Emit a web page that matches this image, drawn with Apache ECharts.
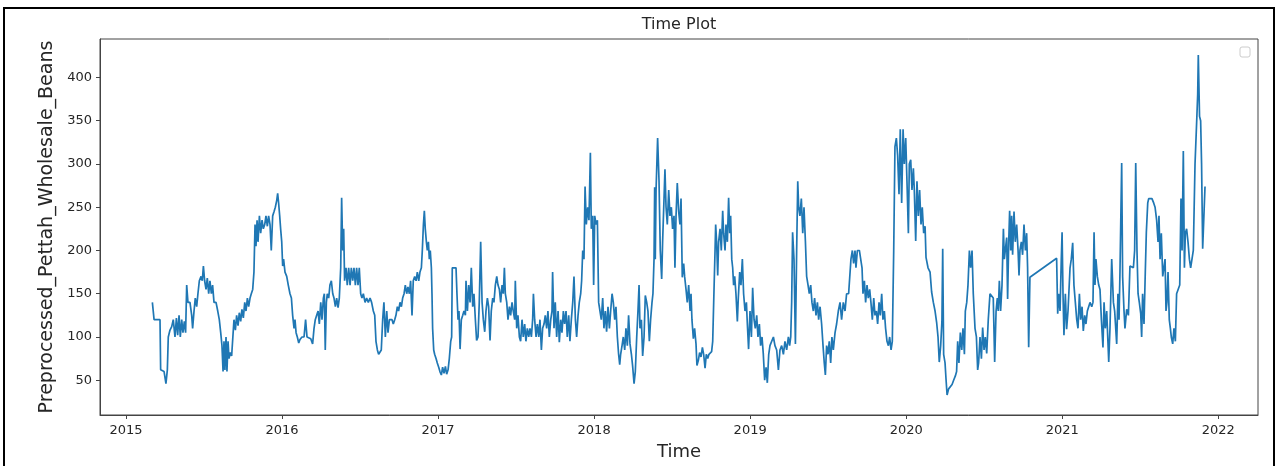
<!DOCTYPE html>
<html><head><meta charset="utf-8">
<script src="https://cdn.jsdelivr.net/npm/echarts@6/dist/echarts.min.js"></script>
<style>html,body{margin:0;padding:0;background:#fff;}#c{width:1275px;height:466px;}</style>
</head><body><div id="c"></div>
<script>
// Observation dates as decimal years
const dates = [
2015.169,2015.177,2015.180,2015.218,2015.222,2015.244,2015.256,2015.265,2015.271,2015.282,
2015.293,2015.303,2015.314,2015.323,2015.331,2015.340,2015.348,2015.357,2015.365,2015.374,
2015.382,2015.389,2015.397,2015.410,2015.421,2015.427,2015.436,2015.444,2015.453,2015.461,
2015.470,2015.481,2015.489,2015.496,2015.504,2015.513,2015.521,2015.530,2015.538,2015.547,
2015.555,2015.564,2015.577,2015.588,2015.598,2015.607,2015.615,2015.622,2015.628,2015.634,
2015.641,2015.647,2015.654,2015.660,2015.669,2015.677,2015.686,2015.692,2015.701,2015.709,
2015.718,2015.726,2015.735,2015.743,2015.752,2015.761,2015.769,2015.778,2015.786,2015.795,
2015.803,2015.812,2015.820,2015.827,2015.833,2015.840,2015.846,2015.855,2015.863,2015.872,
2015.880,2015.889,2015.897,2015.906,2015.914,2015.923,2015.931,2015.940,2015.949,2015.957,
2015.966,2015.972,2015.978,2015.985,2015.991,2015.998,2016.004,2016.010,2016.019,2016.030,
2016.040,2016.051,2016.060,2016.068,2016.077,2016.083,2016.090,2016.098,2016.107,2016.115,
2016.128,2016.141,2016.151,2016.160,2016.171,2016.184,2016.196,2016.205,2016.213,2016.222,
2016.231,2016.239,2016.248,2016.256,2016.265,2016.271,2016.277,2016.284,2016.290,2016.299,
2016.307,2016.316,2016.325,2016.333,2016.342,2016.350,2016.359,2016.367,2016.376,2016.382,
2016.389,2016.395,2016.401,2016.410,2016.418,2016.427,2016.436,2016.444,2016.453,2016.461,
2016.470,2016.478,2016.487,2016.495,2016.504,2016.512,2016.521,2016.532,2016.542,2016.553,
2016.564,2016.574,2016.585,2016.594,2016.602,2016.611,2016.619,2016.628,2016.636,2016.645,
2016.653,2016.662,2016.671,2016.679,2016.688,
2016.696,2016.705,2016.713,2016.722,2016.730,2016.739,2016.747,2016.756,2016.765,2016.773,
2016.782,2016.790,2016.799,2016.807,2016.816,2016.824,2016.833,2016.841,2016.850,2016.859,
2016.867,2016.876,2016.884,2016.893,2016.899,2016.906,2016.912,2016.918,2016.925,2016.931,
2016.938,2016.944,2016.950,2016.957,2016.961,2016.965,2016.972,2016.978,2016.987,2016.995,
2017.004,2017.012,2017.021,2017.029,2017.038,2017.047,2017.055,2017.064,2017.072,2017.081,
2017.087,2017.091,2017.102,2017.115,2017.121,2017.128,2017.134,2017.141,2017.149,2017.158,
2017.166,2017.175,2017.179,2017.188,2017.196,2017.205,2017.213,2017.222,2017.230,2017.239,
2017.247,2017.256,2017.264,2017.273,2017.282,2017.290,2017.299,2017.307,2017.316,2017.324,
2017.333,2017.341,2017.350,2017.358,2017.367,2017.376,2017.384,2017.393,2017.401,2017.410,
2017.418,2017.425,2017.431,2017.440,2017.448,2017.457,2017.465,2017.474,2017.482,2017.491,
2017.495,2017.504,2017.512,2017.521,2017.529,2017.538,2017.546,2017.555,2017.563,2017.572,
2017.581,2017.589,2017.598,2017.606,2017.611,2017.619,2017.628,2017.636,2017.645,2017.653,
2017.662,2017.670,2017.679,2017.687,2017.696,2017.704,2017.713,2017.722,2017.730,2017.734,
2017.743,2017.751,2017.760,2017.769,2017.777,2017.786,2017.794,2017.803,2017.811,2017.820,
2017.828,2017.837,2017.845,2017.854,2017.863,2017.871,2017.880,2017.888,2017.897,2017.905,
2017.914,2017.920,2017.927,2017.935,2017.942,2017.950,2017.959,2017.967,2017.976,2017.982,
2017.991,2017.997,2018.004,2018.012,2018.021,2018.029,2018.038,2018.046,2018.055,2018.063,
2018.072,2018.080,2018.089,2018.098,2018.106,2018.115,2018.123,2018.132,2018.140,2018.149,
2018.157,2018.164,2018.170,2018.179,2018.187,2018.196,2018.204,2018.213,2018.221,2018.230,
2018.239,2018.247,2018.256,2018.264,2018.273,2018.281,2018.288,2018.294,2018.303,2018.311,
2018.320,2018.328,2018.337,2018.345,2018.354,2018.362,2018.371,2018.377,2018.384,2018.388,
2018.392,2018.397,2018.407,2018.416,2018.424,2018.433,2018.439,2018.448,2018.454,2018.461,
2018.469,2018.478,2018.486,2018.495,2018.503,2018.512,2018.518,2018.525,2018.533,2018.542,
2018.550,
2018.557,2018.565,2018.574,2018.580,2018.589,2018.597,2018.606,2018.615,2018.621,2018.627,
2018.636,2018.644,2018.653,2018.659,2018.668,2018.676,2018.685,2018.694,2018.702,2018.711,
2018.719,2018.728,2018.736,2018.745,2018.753,2018.760,2018.768,2018.775,2018.779,2018.785,
2018.792,2018.798,2018.807,2018.815,2018.824,2018.830,2018.839,2018.845,2018.854,2018.862,
2018.869,2018.875,2018.882,2018.888,2018.894,2018.901,2018.909,2018.918,2018.924,2018.933,
2018.941,2018.950,2018.958,2018.967,2018.976,2018.982,2018.990,2018.999,2019.008,2019.016,
2019.025,2019.033,2019.042,2019.050,2019.059,2019.067,2019.076,2019.084,2019.093,2019.102,
2019.110,2019.119,2019.127,2019.138,2019.149,2019.159,2019.170,2019.181,2019.191,2019.202,
2019.213,2019.223,2019.234,2019.245,2019.253,2019.260,2019.266,2019.272,2019.281,2019.290,
2019.298,2019.305,2019.311,2019.319,2019.328,2019.337,2019.345,2019.354,2019.362,2019.371,
2019.379,2019.388,2019.396,2019.405,2019.413,2019.422,2019.431,2019.439,2019.448,2019.458,
2019.467,2019.475,2019.482,2019.490,2019.499,2019.507,2019.516,2019.524,2019.533,2019.544,
2019.554,2019.565,2019.576,2019.586,2019.597,2019.608,2019.618,2019.631,2019.640,2019.646,
2019.655,2019.663,2019.672,2019.678,2019.687,2019.700,2019.710,2019.717,2019.723,2019.732,
2019.740,2019.749,2019.757,2019.766,2019.774,2019.783,2019.792,2019.800,2019.809,2019.817,
2019.826,2019.834,2019.843,2019.851,2019.860,2019.868,2019.877,2019.886,2019.894,2019.903,
2019.911,2019.920,2019.928,2019.937,2019.945,2019.954,2019.962,2019.971,2019.980,2019.988,
2019.997,2020.005,2020.014,2020.020,2020.029,2020.037,2020.046,2020.052,2020.061,2020.069,
2020.078,2020.086,2020.095,2020.103,2020.112,2020.121,2020.127,2020.140,2020.153,2020.163,
2020.174,2020.185,2020.195,2020.204,2020.212,2020.221,2020.229,2020.234,2020.240,2020.249,
2020.255,2020.262,2020.272,2020.283,2020.294,2020.304,2020.315,2020.323,2020.330,2020.338,
2020.347,2020.356,2020.364,2020.373,2020.379,2020.388,2020.396,2020.405,
2020.413,2020.422,2020.430,2020.441,2020.450,2020.458,2020.464,2020.473,2020.482,2020.490,
2020.499,2020.507,2020.516,2020.526,2020.537,2020.548,2020.558,2020.567,2020.576,2020.584,
2020.590,2020.597,2020.605,2020.614,2020.623,2020.629,2020.635,2020.644,2020.650,2020.657,
2020.663,2020.670,2020.676,2020.682,2020.691,2020.699,2020.708,2020.717,2020.723,2020.729,
2020.738,2020.746,2020.755,2020.764,2020.772,2020.778,2020.785,2020.793,2020.964,2020.971,
2020.977,2020.986,2020.994,2020.999,2021.005,2021.011,2021.020,2021.028,2021.037,2021.050,
2021.058,2021.067,2021.075,2021.084,2021.093,2021.101,2021.110,2021.118,2021.127,2021.135,
2021.144,2021.152,2021.161,2021.169,2021.178,2021.189,2021.197,2021.204,2021.210,2021.216,
2021.225,2021.234,2021.242,2021.251,2021.261,2021.268,2021.276,2021.285,2021.298,2021.306,
2021.317,2021.328,2021.336,2021.349,2021.357,2021.364,2021.370,2021.381,2021.387,2021.396,
2021.402,2021.413,2021.424,2021.434,2021.445,2021.456,2021.464,2021.471,2021.479,2021.486,
2021.494,2021.503,2021.509,2021.515,2021.524,2021.533,2021.539,2021.548,2021.554,2021.565,
2021.575,2021.586,2021.595,2021.605,2021.614,2021.620,2021.627,2021.635,2021.644,2021.652,
2021.659,2021.665,2021.671,2021.678,2021.686,2021.693,2021.699,2021.708,2021.716,2021.725,
2021.733,2021.744,2021.753,2021.761,2021.768,2021.776,2021.783,2021.789,2021.797,2021.806,
2021.815,2021.823,2021.832,2021.840,2021.851,2021.862,2021.868,2021.872,2021.880,2021.887,
2021.893,2021.900,2021.915
];
// Preprocessed Pettah wholesale bean prices
const prices = [
140,140,120,120,62,60,46,62,100,108,
112,120,100,122,102,125,100,120,105,118,
105,160,140,140,125,110,130,145,135,150,
165,170,165,182,165,155,168,150,165,150,
160,140,140,130,120,105,90,60,95,62,
100,60,95,75,82,78,80,120,108,125,
113,128,118,132,122,140,130,145,135,145,
150,155,175,230,205,235,210,240,220,235,
225,230,240,228,240,230,200,240,245,250,
258,266,255,240,225,210,182,190,175,170,
160,150,145,125,110,120,105,100,93,97,
100,100,120,100,100,98,92,110,120,125,
130,115,140,120,145,150,85,140,150,145,
160,165,150,145,135,145,134,145,180,261,
200,225,165,180,160,180,160,180,165,180,
160,180,160,180,150,145,150,140,145,140,
145,140,130,125,95,85,80,82,85,120,
140,100,130,105,120,
118,120,115,120,125,135,130,140,135,145,
150,160,150,158,150,165,125,165,170,165,
175,165,175,180,200,230,246,225,210,200,
210,190,200,180,150,110,85,80,75,70,
65,60,56,65,58,66,57,62,75,95,
100,180,180,180,150,120,130,86,120,125,
130,125,165,130,160,140,180,135,150,120,
96,100,140,210,140,120,106,130,145,135,
96,130,145,140,160,170,160,155,140,160,
150,180,150,140,120,135,125,140,130,120,
165,110,125,100,95,120,100,115,95,110,
100,110,100,120,150,120,100,115,100,120,
85,110,115,125,110,130,100,120,130,175,
110,140,100,130,94,120,105,130,115,130,
100,125,95,120,140,170,120,100,125,140,
150,165,200,190,274,230,250,235,313,225,
240,160,240,230,235,140,140,120,145,110,
130,106,135,110,130,150,140,120,135,100,
80,68,80,90,100,85,110,90,125,92,
80,66,46,60,100,130,160,110,120,78,
100,148,140,130,95,120,140,150,190,273,
190,270,330,280,200,167,210,260,294,250,
230,270,240,250,225,240,180,240,278,245,
230,
260,169,185,170,155,140,160,130,150,120,
98,110,92,67,73,82,77,88,80,64,
80,75,80,78,83,95,152,200,230,210,
171,210,225,200,246,220,200,230,210,261,
220,240,190,180,160,170,150,118,145,175,
160,190,150,130,140,115,86,130,100,157,
120,110,125,100,115,90,100,81,50,65,
47,80,90,90,100,90,85,62,85,90,
80,95,85,100,90,100,140,221,190,92,
200,280,250,240,260,220,250,211,170,160,
150,160,140,130,145,125,140,120,135,115,
90,70,56,90,80,95,70,100,85,105,
115,130,140,120,140,130,150,150,152,190,
200,185,200,180,200,200,200,180,150,165,
140,160,145,155,140,120,145,125,130,115,
140,125,150,120,130,110,95,90,100,85,
95,200,320,330,310,265,340,255,340,300,
330,280,220,300,305,270,295,270,211,280,
240,270,230,250,220,228,192,180,175,152,
140,130,117,100,71,90,118,202,80,70,
52,33,40,42,45,50,55,60,95,70,
105,85,110,80,130,140,160,200,
180,200,150,110,100,62,70,100,75,111,
85,100,81,120,150,150,145,71,130,145,
130,165,130,160,225,190,200,215,144,210,
246,200,240,195,245,210,230,200,171,200,
210,195,230,200,220,180,88,169,191,127,
150,130,190,221,150,102,150,109,130,180,
190,209,160,140,120,110,150,120,135,107,
125,115,130,130,140,135,140,221,160,190,
170,160,155,120,88,140,110,130,71,110,
190,140,130,92,150,120,175,301,170,130,
110,132,125,182,180,180,200,301,200,150,
140,127,100,150,115,180,221,255,260,260,
260,255,250,235,210,240,190,220,170,171,
190,130,140,175,120,110,100,92,110,95,
150,150,160,260,200,315,180,220,225,210,
190,180,180,200,300,351,380,426,355,350,
300,202,274
];
const xTickYears = [2015,2016,2017,2018,2019,2020,2021,2022];
const yTickValues = [50,100,150,200,250,300,350,400];
const chartTitle = 'Time Plot';
const xName = 'Time';
const yName = 'Preprocessed_Pettah_Wholesale_Beans';

if (dates.length !== prices.length) console.error('length mismatch', dates.length, prices.length);
const seriesData = dates.map((d, i) => [d, prices[i]]);

const FONT = 'DejaVu Sans';
const TXT = '#262626';
const AX = '#444';
const chart = echarts.init(document.getElementById('c'), null, {renderer: 'canvas'});
chart.setOption({
  animation: false,
  backgroundColor: '#fff',
  title: {
    text: chartTitle, left: 679, top: 17, padding: 0, textAlign: 'center',
    textStyle: {fontFamily: FONT, fontSize: 16, fontWeight: 'normal', color: TXT}
  },
  grid: {left: 100, right: 17, top: 39, bottom: 50, show: true, borderColor: AX, borderWidth: 1},
  xAxis: {
    type: 'value', min: 2014.8334, max: 2022.2546,
    name: xName, nameLocation: 'middle', nameGap: 28,
    nameTextStyle: {fontFamily: FONT, fontSize: 18, color: TXT},
    axisLine: {show: true, lineStyle: {color: AX, width: 1}},
    axisTick: {show: true, length: 4, customValues: xTickYears, lineStyle: {color: AX}},
    axisLabel: {customValues: xTickYears, formatter: v => String(Math.round(v)),
      fontFamily: FONT, fontSize: 13, color: TXT, margin: 9},
    splitLine: {show: false}
  },
  yAxis: {
    type: 'value', min: 9.8, max: 444.5,
    name: yName, nameLocation: 'middle', nameGap: 42,
    nameTextStyle: {fontFamily: FONT, fontSize: 19, color: TXT},
    axisLine: {show: true, lineStyle: {color: AX, width: 1}},
    axisTick: {show: true, length: 4, customValues: yTickValues, lineStyle: {color: AX}},
    axisLabel: {customValues: yTickValues, fontFamily: FONT, fontSize: 13, color: TXT, margin: 8},
    splitLine: {show: false}
  },
  series: [{
    type: 'line', data: seriesData, showSymbol: false, symbol: 'none',
    lineStyle: {color: '#1f77b4', width: 1.7}, itemStyle: {color: '#1f77b4'}, clip: true
  }],
  graphic: [
    {type: 'rect', silent: true, z: 100, shape: {x: 4, y: 8, width: 1270, height: 480},
      style: {fill: 'none', stroke: '#000', lineWidth: 2}},
    {type: 'rect', silent: true, z: 100, shape: {x: 1240, y: 47, width: 10, height: 10, r: 2},
      style: {fill: '#fff', stroke: '#ccc', lineWidth: 1}}
  ]
});
</script>
</body></html>
